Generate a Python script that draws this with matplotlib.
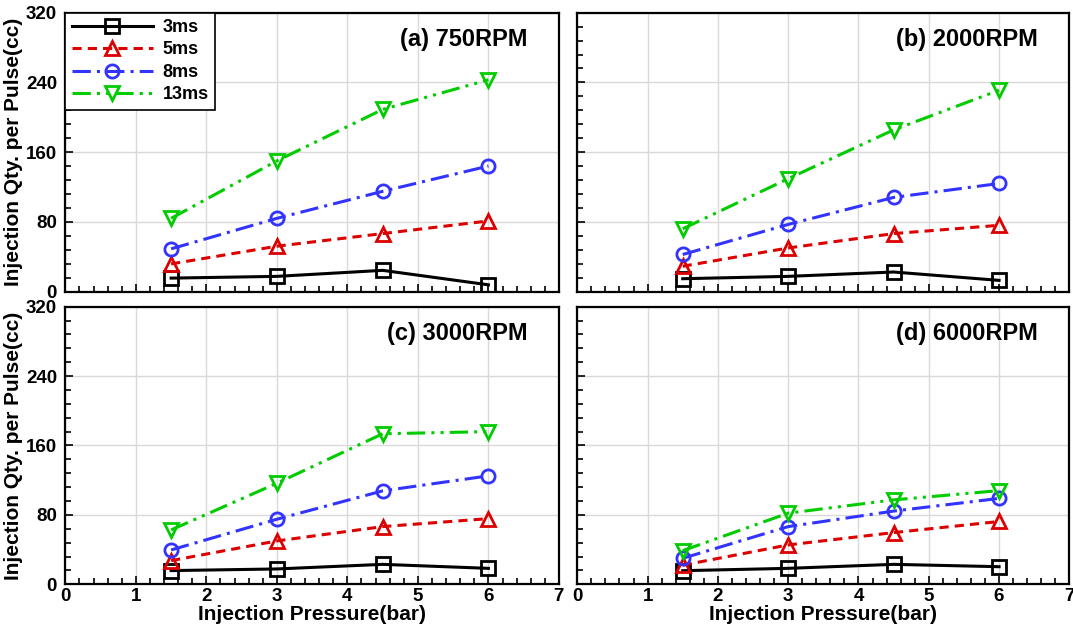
import numpy as np
import matplotlib
matplotlib.use("Agg")
import matplotlib.pyplot as plt
from matplotlib.ticker import MultipleLocator

plt.rcParams['font.family'] = ['Liberation Sans', 'DejaVu Sans']
plt.rcParams['font.weight'] = 'bold'

# 分压力 (bar)
pressure = [1.5, 3, 4.5, 6]
durations = ['3ms', '5ms', '8ms', '13ms']
panel_titles = ['(a) 750RPM', '(b) 2000RPM', '(c) 3000RPM', '(d) 6000RPM']

# 每个转速下的喷射量 (cc)
rpm750 = [[15.4, 17.4, 24.3, 7.7],
          [31.7, 52, 66.5, 81],
          [49, 84, 115, 144],
          [84, 150, 209, 243]]
rpm2000 = [[14.7, 17.4, 22.4, 12.8],
           [29, 50, 66.5, 76],
           [42.5, 77, 108, 124],
           [72, 129.5, 185.5, 231]]
rpm3000 = [[15.8, 17.7, 23, 18.4],
           [27.3, 50, 66.5, 75.7],
           [39.6, 75, 107.7, 125],
           [62.7, 116.5, 173.5, 176]]
rpm6000 = [[15.7, 18.4, 23, 20.3],
           [22, 45.4, 59.6, 72.4],
           [30, 66.5, 84.4, 99],
           [38.8, 82, 97.3, 108]]
all_data = [rpm750, rpm2000, rpm3000, rpm6000]

colors = ['black', '#DD0000', '#3333FF', '#00CC00']
markers = ['s', '^', 'o', 'v']
dashes = [(None, None), (3, 2), (6, 2, 1, 2), (6, 2, 1, 2, 1, 2)]

fig = plt.figure(figsize=(10.73, 6.26), dpi=100)
# 四个子图的位置
boxes = [[0.0609, 0.5343, 0.4600, 0.4454],
         [0.5380, 0.5343, 0.4586, 0.4454],
         [0.0609, 0.0666, 0.4600, 0.4435],
         [0.5380, 0.0666, 0.4586, 0.4435]]

for k in range(4):
    ax = fig.add_axes(boxes[k])
    ax.set_xlim(0, 7)
    ax.set_ylim(0, 320)
    ax.xaxis.set_major_locator(MultipleLocator(1))
    ax.xaxis.set_minor_locator(MultipleLocator(0.2))
    ax.yaxis.set_major_locator(MultipleLocator(80))
    ax.yaxis.set_minor_locator(MultipleLocator(16))
    ax.grid(True, which='major', color='#d9d9d9', lw=1)
    ax.set_axisbelow(True)
    for s in ax.spines.values():
        s.set_linewidth(1.6)
    ax.tick_params(which='both', direction='in', top=False, right=False, width=1.2,
                   labelsize=13.5)
    ax.tick_params(axis='x', pad=3)
    ax.tick_params(axis='y', pad=6)
    ax.tick_params(which='major', length=6)
    ax.tick_params(which='minor', length=4)
    for i in range(4):
        ln, = ax.plot(pressure, all_data[k][i], color=colors[i], lw=2.2,
                      marker=markers[i], ms=9.5, mfc='none', mec=colors[i], mew=2,
                      label=durations[i])
        if i > 0:
            ln.set_dashes(dashes[i])
    ax.text(0.937, 0.905, panel_titles[k], transform=ax.transAxes, ha='right',
            va='center', fontsize=17, fontweight='bold')
    if k < 2:
        ax.set_xticklabels([])
    else:
        ax.set_xlabel('Injection Pressure(bar)', fontsize=15, fontweight='bold', labelpad=0)
    if k % 2 == 1:
        ax.set_yticklabels([])
    else:
        ax.set_ylabel('Injection Qty. per Pulse(cc)', fontsize=15, fontweight='bold', labelpad=2)
    if k == 0:
        leg = ax.legend(loc='upper left', fancybox=False, framealpha=1, edgecolor='black',
                        handlelength=4.5, fontsize=13, borderaxespad=0, borderpad=0.35,
                        labelspacing=0.3, handletextpad=0.55)
        leg.get_frame().set_linewidth(1.2)

plt.savefig('out.png', dpi=100)
